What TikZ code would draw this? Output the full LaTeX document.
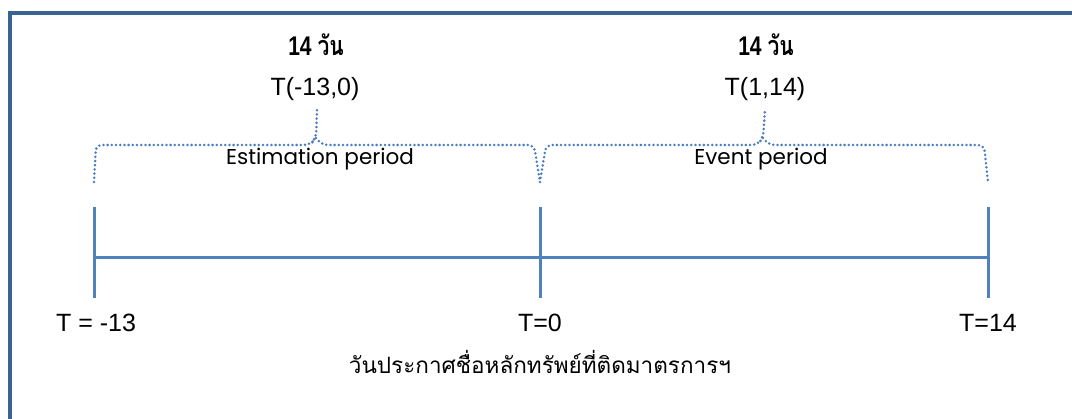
\documentclass[tikz,border=0pt]{standalone}
\usepackage{fontspec}
\setmainfont{Liberation Sans}
\newfontfamily\thaifont[Script=Thai]{Loma}
\newfontfamily\geofont{Poppins}
\definecolor{framecol}{HTML}{3B6294}
\definecolor{linecol}{HTML}{4F81BD}
\definecolor{bracecol}{HTML}{4A7DC0}
\tikzset{
  x=1pt, y=-1pt,
  frame/.style={draw=framecol, line width=3.5pt},
  axis/.style={draw=linecol, line width=3pt},
  brc/.style={draw=bracecol, line width=2.8pt, line cap=round, dash pattern=on 0pt off 4.2pt, rounded corners=6pt},
  lbl/.style={inner sep=0pt, font=\fontsize{25}{28}\selectfont},
  per/.style={inner sep=0pt, font=\geofont\fontsize{21.5}{24}\selectfont},
  days/.style={inner sep=0pt, font=\bfseries\fontsize{27}{30}\selectfont},
}
\begin{document}
\begin{tikzpicture}
\useasboundingbox (0,0) rectangle (1072,419);
\fill[white] (0,0) rectangle (1072,419);
% frame
\coordinate (fTL) at (10,13);
\coordinate (fTR) at (1072,13);
\coordinate (fBL) at (10,419);
\draw[frame] (fBL) -- (fTL) -- (fTR);
% ticks
\coordinate (aT) at (94,207);  \coordinate (aB) at (94,298);
\coordinate (bT) at (540,207); \coordinate (bB) at (540,298);
\coordinate (cT) at (988,207); \coordinate (cB) at (988,298);
\coordinate (aM) at (94,258); \coordinate (cM) at (988,258);
\draw[axis] (aT) -- (aB);
\draw[axis] (bT) -- (bB);
\draw[axis] (cT) -- (cB);
\draw[axis] (aM) -- (cM);
% tick labels
\node[lbl] (la) at (96,323) {T = -13};
\node[lbl] (lb) at (540,323) {T=0};
\node[lbl] (lc) at (988,323) {T=14};
\node[inner sep=0pt, font=\thaifont\fontsize{22.5}{26}\selectfont] (ann) at (540,362) {วันประกาศชื่อหลักทรัพย์ที่ติดมาตรการฯ};
% top labels
\node[days] (d1) at (316,45) {\scalebox{0.78}[1]{14 {\thaifont วัน}}};
\node[days] (d2) at (766,45) {\scalebox{0.78}[1]{14 {\thaifont วัน}}};
\node[lbl] (t1) at (315,89) {T(-13,0)};
\node[lbl] (t2) at (765,89) {T(1,14)};
% braces
\coordinate (b1s) at (94,182);
\coordinate (b1c) at (317,110);
\coordinate (b1e) at (540,182);
\coordinate (b2c) at (765,110);
\coordinate (b2e) at (988,182);
\draw[brc] (b1s) -- (96,145) -- (310,145) -- (316,138) -- (b1c);
\draw[brc] (316,138) -- (322,145) -- (534,145) -- (b1e);
\draw[brc] (b1e) -- (546,145) -- (757,145) -- (763,138) -- (b2c);
\draw[brc] (763,138) -- (769,145) -- (984,145) -- (b2e);
\node[per] (ep) at (320,159) {Estimation period};
\node[per] (ev) at (761,159) {Event period};
\end{tikzpicture}
\end{document}
